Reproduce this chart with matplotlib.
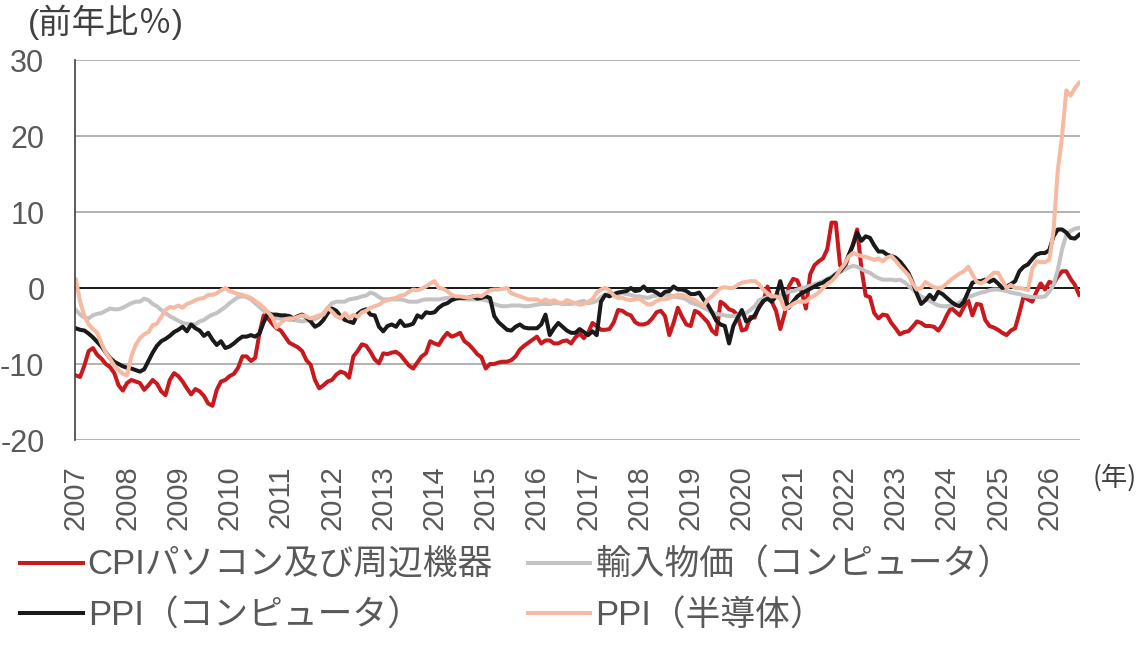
import numpy as np
import matplotlib
matplotlib.use('Agg')
import matplotlib.pyplot as plt

# 前年比(%)、月次 2007年1月～2026年8月
years = list(range(2007, 2027))

cpi_pc = [
    -11.5, -11.7, -10.2, -8.3, -7.9, -8.8, -9.3, -10.0, -10.4, -11.2, -12.8, -13.5,   # 2007
    -12.5, -12.1, -12.3, -12.5, -13.4, -12.8, -12.1, -12.6, -13.6, -14.1, -12.1, -11.2,  # 2008
    -11.6, -12.3, -13.2, -14.0, -13.3, -13.6, -14.2, -15.2, -15.5, -13.4, -12.3, -12.1,  # 2009
    -11.6, -11.3, -10.5, -9.0, -9.0, -9.6, -9.2, -6.0, -3.6, -4.0, -4.7, -5.3,   # 2010
    -5.6, -6.4, -7.2, -7.5, -7.8, -8.3, -9.5, -10.1, -12.1, -13.2, -12.8, -12.3,  # 2011
    -12.1, -11.4, -11.0, -11.2, -11.8, -9.0, -8.3, -7.4, -7.6, -8.4, -9.4, -9.9,  # 2012
    -8.6, -8.7, -8.5, -8.4, -8.8, -9.5, -10.2, -10.6, -9.8, -9.0, -8.6, -7.0,   # 2013
    -7.3, -7.5, -6.6, -5.9, -6.4, -6.2, -5.9, -7.0, -7.4, -8.0, -8.7, -9.1,   # 2014
    -10.6, -10.0, -10.0, -9.8, -9.7, -9.7, -9.5, -9.0, -8.1, -7.6, -7.2, -6.8,  # 2015
    -6.4, -7.3, -6.9, -6.9, -7.3, -7.3, -7.0, -6.9, -7.3, -6.5, -6.0, -6.6,   # 2016
    -5.9, -4.6, -5.0, -5.5, -5.5, -5.4, -4.5, -2.9, -3.0, -3.4, -3.6, -4.5,   # 2017
    -4.8, -4.8, -4.6, -4.0, -3.2, -3.0, -3.7, -6.2, -4.6, -2.6, -3.8, -4.8,   # 2018
    -5.0, -3.0, -3.3, -3.9, -4.5, -5.6, -6.1, -1.8, -2.2, -2.8, -3.0, -3.6,   # 2019
    -5.6, -5.4, -3.8, -3.9, -2.4, -1.8, 0.2, -1.8, -3.0, -5.4, -3.4, 0.2,     # 2020
    1.2, 1.0, -0.5, -2.7, 1.8, 3.0, 3.5, 3.9, 5.1, 8.6, 8.6, 3.0,             # 2021
    2.5, 4.2, 5.7, 7.7, 2.6, -1.0, -1.2, -3.3, -4.0, -3.5, -3.6, -4.6,        # 2022
    -5.3, -6.1, -5.8, -5.7, -5.1, -4.4, -4.6, -5.0, -5.0, -5.1, -5.6, -4.8,   # 2023
    -3.6, -2.6, -3.1, -3.6, -2.5, -1.6, -3.6, -2.1, -2.2, -4.2, -5.0, -5.2,   # 2024
    -5.5, -5.9, -6.2, -5.6, -5.3, -3.3, -1.1, -1.5, -1.8, -0.5, 0.6, -0.2,    # 2025
    0.8, 0.6, 1.5, 2.2, 2.2, 1.2, 0.4, -0.9,                                  # 2026
]

import_pc = [
    -2.9, -3.5, -3.9, -4.0, -3.6, -3.4, -3.3, -3.0, -2.7, -2.8, -2.8, -2.6,   # 2007
    -2.3, -2.0, -1.8, -1.8, -1.4, -1.6, -2.1, -2.4, -2.9, -3.3, -3.7, -4.0,   # 2008
    -4.3, -4.6, -4.7, -4.8, -4.8, -4.4, -4.2, -3.8, -3.5, -3.3, -2.9, -2.5,   # 2009
    -2.0, -1.6, -1.2, -1.1, -1.2, -1.5, -2.0, -2.5, -3.0, -3.4, -3.7, -4.0,   # 2010
    -4.0, -4.0, -4.2, -4.2, -4.3, -4.4, -4.3, -4.2, -4.1, -3.8, -3.3, -2.6,   # 2011
    -2.0, -1.8, -1.8, -1.8, -1.5, -1.4, -1.3, -1.1, -1.0, -0.6, -0.8, -1.2,   # 2012
    -1.5, -1.5, -1.5, -1.5, -1.5, -1.6, -1.8, -1.8, -1.8, -1.6, -1.5, -1.5,   # 2013
    -1.5, -1.5, -1.4, -1.3, -1.3, -1.3, -1.4, -1.5, -1.5, -1.5, -1.5, -1.5,   # 2014
    -1.6, -1.8, -2.1, -2.3, -2.4, -2.4, -2.3, -2.3, -2.3, -2.4, -2.4, -2.3,   # 2015
    -2.2, -2.1, -2.1, -2.1, -2.0, -2.0, -2.1, -2.1, -2.1, -2.0, -1.8, -1.7,   # 2016
    -2.0, -1.9, -1.7, -1.2, -0.9, -0.7, -0.8, -0.8, -0.7, -0.8, -0.9, -1.1,   # 2017
    -1.1, -1.2, -1.3, -1.1, -1.0, -0.9, -0.9, -0.9, -1.1, -1.2, -1.3, -1.5,   # 2018
    -1.9, -2.1, -2.3, -2.6, -2.9, -3.2, -3.4, -3.5, -3.6, -3.7, -3.7, -3.6,   # 2019
    -3.6, -3.3, -2.9, -2.4, -1.6, -1.4, -1.2, -1.1, -1.0, -0.9, -0.7, -0.5,   # 2020
    -0.4, -0.2, 0.0, 0.1, 0.3, 0.5, 0.7, 0.9, 1.2, 1.5, 1.9, 2.1,             # 2021
    2.4, 2.7, 2.9, 2.8, 2.5, 2.2, 2.0, 1.6, 1.3, 1.1, 1.1, 1.1,               # 2022
    1.0, 1.1, 0.8, 0.3, -0.2, -0.7, -1.1, -1.4, -1.7, -2.0, -2.3, -2.4,       # 2023
    -2.4, -2.3, -2.1, -1.9, -1.5, -1.2, -1.0, -0.8, -0.6, -0.5, -0.3, -0.2,   # 2024
    -0.2, -0.3, -0.4, -0.6, -0.7, -0.8, -1.0, -1.1, -1.2, -1.2, -1.2, -1.1,   # 2025
    -0.5, 0.4, 2.4, 5.1, 7.0, 7.5, 7.8, 7.9,                                  # 2026
]

ppi_pc = [
    -5.3, -5.5, -5.6, -6.0, -6.5, -7.1, -7.7, -8.5, -9.2, -9.7, -10.0, -10.3,  # 2007
    -10.5, -10.6, -10.8, -11.0, -10.7, -9.6, -8.5, -7.6, -7.0, -6.7, -6.3, -5.8,  # 2008
    -5.5, -5.1, -5.7, -4.8, -5.3, -5.6, -6.3, -5.9, -6.8, -7.5, -7.0, -7.9,   # 2009
    -7.7, -7.3, -6.8, -6.4, -6.4, -6.2, -6.4, -6.0, -4.5, -3.3, -3.5, -3.5,   # 2010
    -3.6, -3.6, -3.7, -4.0, -3.7, -3.5, -3.9, -4.4, -5.1, -4.8, -4.2, -3.3,   # 2011
    -2.7, -3.0, -3.7, -4.2, -4.4, -4.6, -3.4, -3.0, -2.8, -3.5, -3.6, -5.1,   # 2012
    -5.7, -5.0, -4.8, -5.1, -4.3, -5.0, -4.9, -4.7, -3.6, -3.9, -3.2, -3.3,   # 2013
    -3.2, -2.6, -2.2, -2.0, -1.6, -1.4, -1.3, -1.3, -1.3, -1.1, -1.4, -1.3,   # 2014
    -1.1, -1.3, -3.7, -4.5, -5.0, -5.5, -5.6, -5.1, -4.8, -5.2, -5.3, -5.3,   # 2015
    -5.3, -4.8, -3.5, -6.2, -5.3, -4.6, -5.1, -5.6, -5.9, -5.9, -5.4, -5.8,   # 2016
    -6.2, -5.7, -6.2, -1.8, -0.9, -1.1, -0.8, -0.6, -0.5, -0.4, 0.0, -0.4,    # 2017
    -0.3, 0.2, -0.4, -0.3, -0.6, -1.0, -0.5, -0.4, 0.2, -0.2, -0.2, -0.4,     # 2018
    -0.8, -0.8, -0.6, -1.5, -2.2, -3.2, -4.3, -4.8, -5.0, -7.3, -5.0, -3.9,   # 2019
    -2.9, -4.4, -4.1, -3.6, -2.6, -1.7, -1.4, -1.8, -1.1, 0.9, -1.2, -2.6,    # 2020
    -1.8, -1.1, -0.7, -0.4, -0.1, 0.2, 0.5, 0.7, 1.1, 1.3, 1.8, 2.2,          # 2021
    2.9, 4.3, 5.6, 7.3, 6.2, 6.8, 6.6, 5.6, 4.8, 4.8, 4.4, 4.2,               # 2022
    4.0, 3.5, 2.8, 2.0, 0.7, -0.8, -2.1, -1.6, -0.9, -1.5, -0.5, -0.8,        # 2023
    -1.3, -1.8, -2.2, -2.4, -1.8, -0.5, 0.7, 0.9, 0.9, 1.1, 0.8, 1.1,         # 2024
    0.6, 0.0, 0.2, 0.5, 0.9, 2.2, 2.8, 3.1, 3.8, 4.4, 4.6, 4.6,               # 2025
    5.0, 6.8, 7.7, 7.7, 7.3, 6.6, 6.5, 7.0,                                   # 2026
]

ppi_semi = [
    1.1, -1.8, -3.7, -4.8, -5.4, -5.9, -7.3, -8.5, -9.3, -10.2, -10.8, -11.3,  # 2007
    -11.5, -9.0, -7.5, -6.6, -6.1, -5.8, -4.9, -4.7, -3.8, -2.9, -2.5, -2.6,  # 2008
    -2.3, -2.6, -2.1, -1.9, -1.6, -1.4, -1.3, -0.9, -0.9, -0.7, -0.3, 0.0,    # 2009
    -0.4, -0.6, -0.8, -0.9, -1.1, -1.3, -1.7, -2.1, -2.6, -3.2, -3.8, -5.2,   # 2010
    -4.6, -4.1, -4.0, -4.0, -3.8, -3.6, -3.8, -4.0, -3.8, -3.6, -3.5, -2.6,   # 2011
    -3.1, -3.7, -4.0, -3.3, -4.0, -3.5, -3.8, -3.2, -3.0, -2.6, -2.4, -2.2,   # 2012
    -1.8, -1.6, -1.4, -1.3, -1.0, -0.9, -0.5, -0.2, -0.3, -0.1, 0.2, 0.6,     # 2013
    0.9, 0.0, -0.1, -0.4, -0.9, -1.1, -1.1, -1.2, -1.3, -1.1, -1.0, -1.1,     # 2014
    -0.7, -0.3, -0.2, -0.2, -0.1, 0.0, -0.7, -0.9, -1.1, -1.3, -1.5, -1.5,    # 2015
    -1.5, -1.8, -1.5, -1.8, -1.6, -1.9, -2.0, -1.6, -1.8, -2.0, -2.2, -2.1,   # 2016
    -1.8, -1.5, -0.6, -0.2, 0.0, -0.3, -1.0, -1.3, -1.3, -1.5, -1.6, -1.5,    # 2017
    -1.4, -1.8, -2.2, -2.1, -1.7, -1.5, -1.5, -1.3, -1.1, -0.9, -0.9, -1.1,   # 2018
    -1.4, -1.6, -2.0, -2.4, -1.5, -1.1, -0.5, 0.0, 0.1, 0.0, 0.0, 0.4,        # 2019
    0.7, 0.8, 0.9, 0.9, 0.5, -0.2, -0.7, -1.1, -1.1, -1.4, -2.8, -2.5,        # 2020
    -2.1, -1.8, -1.8, -1.8, -1.3, -1.0, -0.6, 0.0, 0.5, 0.9, 1.5, 2.4,        # 2021
    3.1, 4.1, 4.6, 4.4, 4.2, 4.1, 3.9, 3.7, 3.9, 3.5, 4.0, 4.2,               # 2022
    3.6, 2.9, 2.3, 1.7, 0.6, -0.2, 0.0, 0.8, 0.4, 0.1, 0.0, 0.1,              # 2023
    0.6, 1.1, 1.5, 1.9, 2.2, 2.8, 1.8, 0.8, 0.6, 0.9, 1.5, 2.0,               # 2024
    2.0, 1.0, 0.0, 0.4, 0.0, 0.0, -0.1, -0.3, 2.5, 3.5, 3.4, 3.4,             # 2025
    3.7, 7.5, 15.5, 20.0, 26.0, 25.3, 26.3, 27.0,                             # 2026
]

labels = ['CPIパソコン及び周辺機器', '輸入物価（コンピュータ）', 'PPI（コンピュータ）', 'PPI（半導体）']
colors = ['#C8191F', '#C3C3C3', '#1A1A1A', '#F6B9A1']

#%%
plt.rcParams['font.family'] = ['Liberation Sans', 'Noto Sans CJK JP']
plt.rcParams['axes.unicode_minus'] = False   # マイナスはハイフンで
txt_color = '#595959'

W, H = 1139, 646
fig = plt.figure(figsize=(W / 100, H / 100), dpi=100)
ax = fig.add_axes([75 / W, 206 / H, 1005 / W, 380 / H])

months = np.arange(len(cpi_pc))
lines = []
for vals, c, lab in zip([cpi_pc, import_pc, ppi_pc, ppi_semi], colors, labels):
    ln, = ax.plot(months, vals, color=c, lw=2.9, label=lab, solid_joinstyle='round')
    lines.append(ln)

ax.set_xlim(-0.2, len(cpi_pc) - 0.8)
ax.set_ylim(-20, 30)
ax.set_yticks(range(-20, 31, 10))
ax.yaxis.grid(True, color='#A6A6A6', lw=1.2)
ax.set_axisbelow(True)
ax.axhline(0, color='black', lw=1.2, zorder=1)

for s in ['top', 'right', 'bottom']:
    ax.spines[s].set_visible(False)
ax.spines['left'].set_color('#404040')
ax.spines['left'].set_linewidth(1.2)

ax.set_xticks(months[::12])
ax.set_xticklabels([str(y) for y in years], rotation=90, fontsize=21, color=txt_color)
ax.tick_params(axis='x', length=0, pad=18)
ax.tick_params(axis='y', length=0, pad=22, labelsize=22, labelcolor=txt_color)

# 単位
fig.text(28 / W, 1 - 22 / H, '(前年比％)', fontsize=24, color='#404040', va='center', ha='left')
fig.text(1115 / W, 1 - 478 / H, '(年)', fontsize=19, color='#404040', va='center', ha='center',
         family='Noto Sans CJK JP')

# 凡例 (2列)
order = [0, 2, 1, 3]
fig.legend([lines[i] for i in order], [labels[i] for i in order], ncol=2,
           loc='upper left', bbox_to_anchor=(20 / W, 1 - 549 / H),
           frameon=False, fontsize=25, handlelength=1.8, handletextpad=0.15,
           columnspacing=1.0, labelspacing=0.5, borderpad=0, borderaxespad=0,
           labelcolor=txt_color)

fig.savefig('out.png', dpi=100)
